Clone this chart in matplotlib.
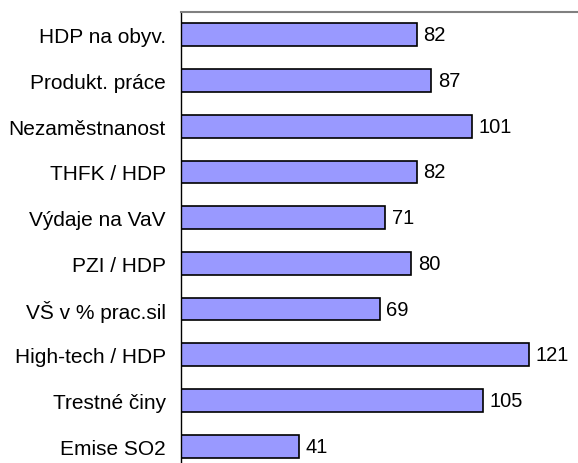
import matplotlib.pyplot as plt

kategorie = ['HDP na obyv.', 'Produkt. práce', 'Nezaměstnanost', 'THFK / HDP',
             'Výdaje na VaV', 'PZI / HDP', 'VŠ v % prac.sil', 'High-tech / HDP',
             'Trestné činy', 'Emise SO2']
hodnoty = [82, 87, 101, 82, 71, 80, 69, 121, 105, 41]

plt.rcParams['font.family'] = ['Liberation Sans', 'DejaVu Sans']

fig = plt.figure(figsize=(5.78, 4.64), dpi=100)
# spodni okraj grafu je oriznuty
ax = fig.add_axes([181 / 578, 1 - 470 / 464, 1 - 181 / 578, (470 - 13) / 464])

pos = list(range(len(kategorie)))
ax.barh(pos, hodnoty, height=0.5, color='#9999FF', edgecolor='black', linewidth=1.2)
for y, v in zip(pos, hodnoty):
    ax.text(v + 2.3, y, str(v), va='center', ha='left', fontsize=14.5)

ax.set_ylim(len(kategorie) - 0.5, -0.5)
ax.set_xlim(0, 138)
ax.set_yticks(pos)
ax.set_yticklabels(kategorie, fontsize=15)
ax.tick_params(axis='y', length=0, pad=11)
ax.set_xticks([])

ax.spines['right'].set_visible(False)
ax.spines['bottom'].set_visible(False)
ax.spines['top'].set_color('#808080')
ax.spines['top'].set_linewidth(1.5)
ax.spines['left'].set_linewidth(1.0)

fig.savefig('out.png', dpi=100)
